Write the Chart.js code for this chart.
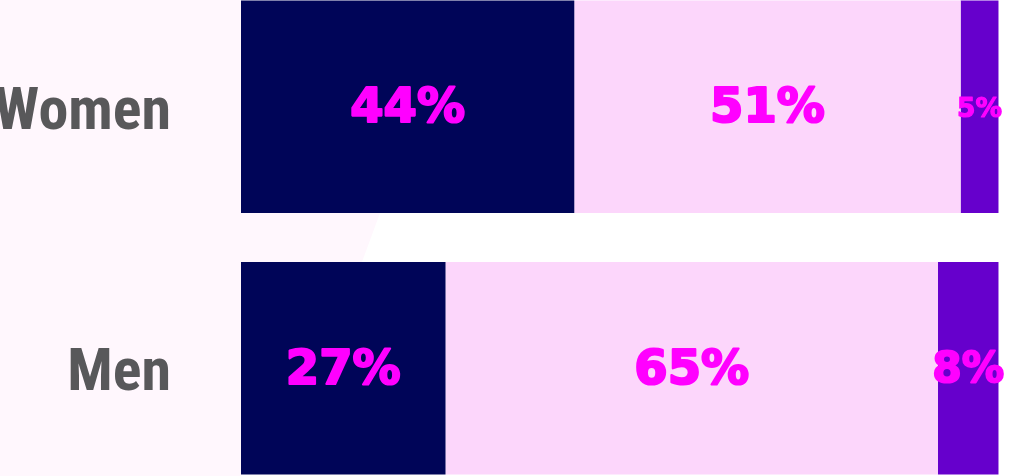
<!DOCTYPE html>
<html>
<head>
<meta charset="utf-8">
<script src="https://cdn.jsdelivr.net/npm/chart.js@4"></script>
<style>
    html, body { margin: 0; padding: 0; background: #ffffff; overflow: hidden; }
    #wrap { position: absolute; left: 0; top: -24px; width: 1025px; height: 523px; }
</style>
</head>
<body>
<div id="wrap"><canvas id="myChart"></canvas></div>
<script>
const groups = ['Women', 'Men'];
const firstShare = [44, 27];
const secondShare = [51, 65];
const thirdShare = [5, 8];

const colors = ['#000558', '#fcd6fb', '#6600cc'];
const labelColor = '#ff00ff';

// light pink panel behind the labels, with the slanted edge between the bars
const backdrop = {
    id: 'backdrop',
    beforeDraw(chart) {
        const ctx = chart.ctx;
        const left = chart.chartArea.left;
        const top = chart.chartArea.top;
        ctx.save();
        ctx.fillStyle = '#fff7fd';
        ctx.beginPath();
        ctx.moveTo(0, 0);
        ctx.lineTo(left, 0);
        ctx.lineTo(left, top + 237);
        ctx.lineTo(380, top + 237);
        ctx.lineTo(362, top + 286);
        ctx.lineTo(left, top + 286);
        ctx.lineTo(left, chart.height);
        ctx.lineTo(0, chart.height);
        ctx.closePath();
        ctx.fill();
        ctx.restore();
    }
};

// percentage text in the middle of each segment
const segmentLabels = {
    id: 'segmentLabels',
    afterDatasetsDraw(chart) {
        const ctx = chart.ctx;
        ctx.save();
        ctx.textAlign = 'center';
        ctx.textBaseline = 'middle';
        ctx.fillStyle = labelColor;
        ctx.strokeStyle = labelColor;
        ctx.lineJoin = 'round';
        chart.data.datasets.forEach((ds, i) => {
            const meta = chart.getDatasetMeta(i);
            meta.data.forEach((bar, j) => {
                const value = ds.data[j];
                const size = Math.min(48, value * 5.3);
                ctx.font = 'bold ' + size + 'px "DejaVu Sans"';
                ctx.lineWidth = size / 22;
                const cx = (bar.x + bar.base) / 2;
                ctx.fillText(value + '%', cx, bar.y + 3);
                ctx.strokeText(value + '%', cx, bar.y + 3);
            });
        });
        ctx.restore();
    }
};

const ctx = document.getElementById('myChart').getContext('2d');

new Chart(ctx, {
    type: 'bar',
    data: {
        labels: groups,
        datasets: [
            { data: firstShare, backgroundColor: colors[0] },
            { data: secondShare, backgroundColor: colors[1] },
            { data: thirdShare, backgroundColor: colors[2] }
        ]
    },
    options: {
        indexAxis: 'y',
        responsive: true,
        maintainAspectRatio: false,
        animation: false,
        layout: { padding: 0 },
        datasets: {
            bar: {
                barPercentage: 0.813,
                categoryPercentage: 1,
                borderWidth: 0
            }
        },
        plugins: {
            legend: { display: false },
            tooltip: { enabled: false }
        },
        scales: {
            x: {
                stacked: true,
                display: false,
                min: 0,
                max: 103.5
            },
            y: {
                stacked: true,
                grid: { display: false, drawTicks: false },
                border: { display: false },
                ticks: {
                    padding: 70,
                    labelOffset: 7,
                    color: '#58585a',
                    font: {
                        family: '"Roboto Condensed", "Liberation Sans Narrow", sans-serif',
                        weight: 'bold',
                        size: 60
                    }
                },
                afterFit: function(scale) {
                    scale.width = 241;
                    scale.paddingTop = 0;
                    scale.paddingBottom = 0;
                }
            }
        }
    },
    plugins: [backdrop, segmentLabels]
});
</script>
</body>
</html>
